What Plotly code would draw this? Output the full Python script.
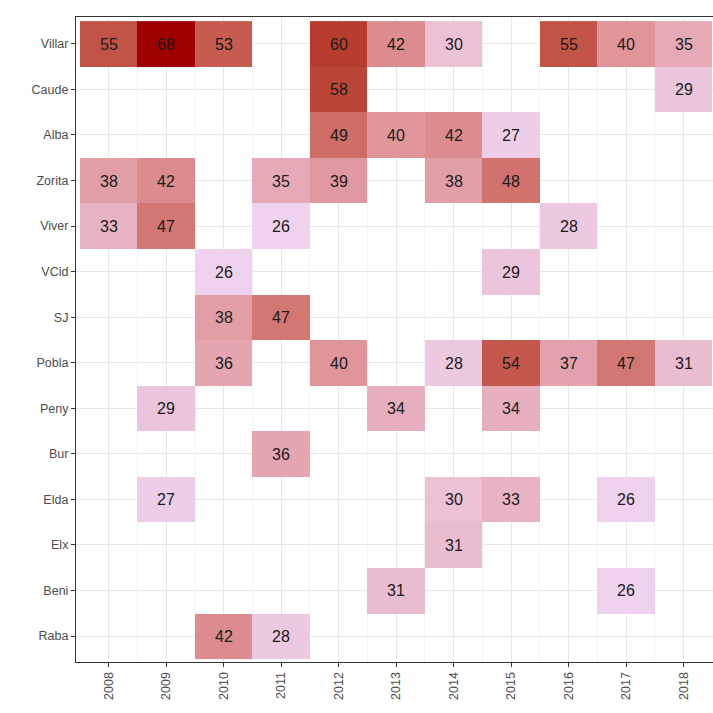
import plotly.graph_objects as go

years = [2008, 2009, 2010, 2011, 2012, 2013, 2014, 2015, 2016, 2017, 2018]
sites = ["Villar", "Caude", "Alba", "Zorita", "Viver", "VCid", "SJ", "Pobla",
         "Peny", "Bur", "Elda", "Elx", "Beni", "Raba"]

Villar = [55, 68, 53, None, 60, 42, 30, None, 55, 40, 35]
Caude  = [None, None, None, None, 58, None, None, None, None, None, 29]
Alba   = [None, None, None, None, 49, 40, 42, 27, None, None, None]
Zorita = [38, 42, None, 35, 39, None, 38, 48, None, None, None]
Viver  = [33, 47, None, 26, None, None, None, None, 28, None, None]
VCid   = [None, None, 26, None, None, None, None, 29, None, None, None]
SJ     = [None, None, 38, 47, None, None, None, None, None, None, None]
Pobla  = [None, None, 36, None, 40, None, 28, 54, 37, 47, 31]
Peny   = [None, 29, None, None, None, 34, None, 34, None, None, None]
Bur    = [None, None, None, 36, None, None, None, None, None, None, None]
Elda   = [None, 27, None, None, None, None, 30, 33, None, 26, None]
Elx    = [None, None, None, None, None, None, 31, None, None, None, None]
Beni   = [None, None, None, None, None, 31, None, None, None, 26, None]
Raba   = [None, None, 42, 28, None, None, None, None, None, None, None]

z = [Villar, Caude, Alba, Zorita, Viver, VCid, SJ, Pobla, Peny, Bur, Elda, Elx, Beni, Raba]

# ---- Lab-space gradient (like ggplot scale_fill_gradient) ----
def _lin(c):
    c = c / 255.0
    return c / 12.92 if c <= 0.04045 else ((c + 0.055) / 1.055) ** 2.4

def _unlin(c):
    c = 12.92 * c if c <= 0.0031308 else 1.055 * c ** (1 / 2.4) - 0.055
    return max(0, min(255, round(c * 255)))

Xn, Yn, Zn = 0.95047, 1.0, 1.08883

def hex2lab(h):
    r, g, b = [_lin(int(h[i:i + 2], 16)) for i in (1, 3, 5)]
    X = 0.4124 * r + 0.3576 * g + 0.1805 * b
    Y = 0.2126 * r + 0.7152 * g + 0.0722 * b
    Z = 0.0193 * r + 0.1192 * g + 0.9505 * b
    def f(t):
        return t ** (1 / 3) if t > 0.008856 else 7.787 * t + 16 / 116
    fx, fy, fz = f(X / Xn), f(Y / Yn), f(Z / Zn)
    return (116 * fy - 16, 500 * (fx - fy), 200 * (fy - fz))

def lab2hex(L, a, b):
    fy = (L + 16) / 116
    fx = fy + a / 500
    fz = fy - b / 200
    def finv(t):
        return t ** 3 if t ** 3 > 0.008856 else (t - 16 / 116) / 7.787
    X, Y, Z = Xn * finv(fx), Yn * finv(fy), Zn * finv(fz)
    r = 3.2406 * X - 1.5372 * Y - 0.4986 * Z
    g = -0.9689 * X + 1.8758 * Y + 0.0415 * Z
    bb = 0.0557 * X - 0.2040 * Y + 1.0570 * Z
    return "#%02x%02x%02x" % (_unlin(max(r, 0)), _unlin(max(g, 0)), _unlin(max(bb, 0)))

low, high = hex2lab("#EED2EE"), hex2lab("#A00000")
n = 12
colorscale = []
for i in range(n + 1):
    t = i / n
    colorscale.append([t, lab2hex(*[low[k] + (high[k] - low[k]) * t for k in range(3)])])

text = [["" if v is None else str(v) for v in row] for row in z]

fig = go.Figure(go.Heatmap(
    x=years, y=sites, z=z, text=text, texttemplate="%{text}",
    textfont=dict(size=16, color="#1a1a1a", family="Liberation Sans, Arial, sans-serif"),
    colorscale=colorscale, zmin=26, zmax=68, showscale=False,
    xgap=0, ygap=0, hoverongaps=False,
))

grid = "#e8e8e8"
fig.update_layout(
    width=713, height=713,
    margin=dict(l=76, r=0, t=17, b=51),
    plot_bgcolor="white", paper_bgcolor="white",
    font=dict(family="Liberation Sans, Arial, sans-serif", color="#4d4d4d", size=12),
    xaxis=dict(
        type="linear", range=[2007.43, 2018.51],
        tickmode="array", tickvals=years, ticktext=[str(y) for y in years],
        tickangle=-90, ticks="outside", ticklen=4, tickcolor="#333333",
        showgrid=True, gridcolor=grid, gridwidth=1,
        minor=dict(tickmode="array", tickvals=[y + 0.5 for y in years[:-1]],
                   showgrid=True, gridcolor="#f2f2f2", gridwidth=0.6, ticks=""),
        showline=True, linecolor="#333333", linewidth=1.2, mirror=True,
        zeroline=False, tickfont=dict(size=12.5, color="#4d4d4d"),
    ),
    yaxis=dict(
        type="category", range=[13.57, -0.59],
        ticks="outside", ticklen=4, tickcolor="#333333",
        showgrid=True, gridcolor=grid, gridwidth=1,
        showline=True, linecolor="#333333", linewidth=1.2, mirror=False,
        zeroline=False, tickfont=dict(size=12.5, color="#4d4d4d"),
    ),
)

fig.write_html(
    "out.html",
    config={"displayModeBar": False},
    post_script="document.body.style.margin='0';document.body.style.overflow='hidden';",
)
